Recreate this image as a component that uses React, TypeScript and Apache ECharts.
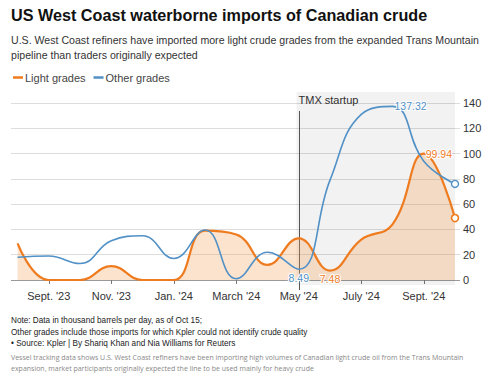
import { useEffect, useRef } from "react";
import * as echarts from "echarts";

const months = ["Aug '23", "Sept '23", "Oct '23", "Nov '23", "Dec '23", "Jan '24", "Feb '24", "March '24", "April '24", "May '24", "June '24", "July '24", "Aug '24", "Sept '24", "Oct '24"];
const lightGrades = [29, 0, 0, 11, 0, 0, 39, 36, 12, 33, 7.48, 32, 44, 99.94, 49];
const otherGrades = [18, 19, 13, 31, 35, 17, 39.5, 1, 22, 8.49, 79, 131, 137.32, 94, 76];
const xTickIndex = [1, 3, 5, 7, 9, 11, 13];
const xTickLabels = ["Sept. '23", "Nov. '23", "Jan. '24", "March '24", "May '24", "July '24", "Sept. '24"];
const tmxIndex = 9;
const lightLabelIdx = [10, 13];
const otherLabelIdx = [9, 12];

const ORANGE = "#ef7b1f";
const BLUE = "#5191c6";
const FONT = "'Liberation Sans', Arial, Helvetica, sans-serif";

export default function App() {
  const ref = useRef<HTMLDivElement>(null);
  useEffect(() => {
    const chart = echarts.init(ref.current!, null, { renderer: "svg" });
    const last = months.length - 1;
    const mk = (arr: number[], labelIdx: number[], color: string) =>
      arr.map((v, i) => {
        const item: any = { value: [i, v] };
        if (labelIdx.includes(i)) {
          const big = v > 50;
          item.label = {
            show: true,
            position: big ? "right" : "bottom",
            distance: big ? 2 : 3,
            color,
            fontSize: 10.5,
            fontFamily: FONT,
            textBorderColor: "#fff",
            textBorderWidth: 2,
            formatter: (p: any) => String(p.value[1]),
          };
        }
        return item;
      });
    const symSize = (_v: any, p: any) => (p.dataIndex === last ? 7 : 0);
    chart.setOption({
      animation: false,
      grid: { left: 11, right: 40, top: 103, bottom: 100, containLabel: false },
      legend: {
        left: 8,
        top: 67,
        icon: "rect",
        itemWidth: 10,
        itemHeight: 2.5,
        itemGap: 8,
        textStyle: { fontSize: 11, color: "#444", fontFamily: FONT, padding: [0, 0, 0, -3] },
        data: [
          { name: "Light grades", itemStyle: { color: ORANGE, borderWidth: 0 } },
          { name: "Other grades", itemStyle: { color: BLUE, borderWidth: 0 } },
        ],
      },
      xAxis: {
        type: "value",
        min: -0.21,
        max: 14.16,
        offset: 5,
        axisLine: { show: false },
        splitLine: { show: false },
        axisTick: { show: true, customValues: xTickIndex, length: 4, lineStyle: { color: "#777" } },
        axisLabel: {
          customValues: xTickIndex,
          formatter: (v: number) => xTickLabels[xTickIndex.indexOf(Math.round(v))] ?? "",
          fontSize: 11,
          color: "#333",
          fontFamily: FONT,
          margin: 5,
        },
      },
      yAxis: {
        type: "value",
        position: "right",
        min: 0,
        max: 140,
        interval: 20,
        axisLine: { show: false },
        axisTick: { show: false },
        axisLabel: { fontSize: 11, color: "#333", fontFamily: FONT, margin: 3 },
        splitLine: { lineStyle: { color: ["#999", "#ddd", "#ddd", "#ddd", "#ddd", "#ddd", "#ddd", "#ddd"], width: 1 } },
      },
      series: [
        {
          name: "Light grades",
          type: "line",
          smooth: 0.45,
          data: mk(lightGrades, lightLabelIdx, ORANGE),
          symbol: "circle",
          symbolSize: symSize,
          showSymbol: true,
          itemStyle: { color: "#fff", borderColor: ORANGE, borderWidth: 1.6 },
          lineStyle: { color: ORANGE, width: 2.2 },
          areaStyle: { color: "rgba(245,160,88,0.42)", origin: "start" },
          z: 3,
        },
        {
          name: "Other grades",
          type: "line",
          smooth: 0.45,
          data: mk(otherGrades, otherLabelIdx, BLUE),
          symbol: "circle",
          symbolSize: symSize,
          showSymbol: true,
          itemStyle: { color: "#fff", borderColor: BLUE, borderWidth: 1.4 },
          lineStyle: { color: BLUE, width: 1.6 },
          z: 4,
        },
      ],
    });

    const pMayTop = chart.convertToPixel({ gridIndex: 0 } as any, [tmxIndex, 140]) as number[];
    const pOctBot = chart.convertToPixel({ gridIndex: 0 } as any, [last, 0]) as number[];
    const xMay = Math.round(pMayTop[0]) + 0.5;
    const yTop = pMayTop[1];
    const yZero = pOctBot[1];

    chart.setOption({
      graphic: [
        {
          type: "rect",
          z: 1,
          silent: true,
          shape: { x: xMay - 3, y: yTop - 11, width: pOctBot[0] - xMay + 3, height: yZero - yTop + 16 },
          style: { fill: "rgba(0,0,0,0.05)" },
        },
        {
          type: "line",
          z: 2,
          silent: true,
          shape: { x1: xMay, y1: yTop + 8, x2: xMay, y2: yZero + 10 },
          style: { stroke: "#555", lineWidth: 1 },
        },
        {
          type: "text",
          left: xMay - 1,
          top: yTop - 9,
          style: { text: "TMX startup", font: `11px ${FONT}`, fill: "#333" },
        },
        {
          type: "text",
          left: 11,
          top: 7,
          style: { text: "US West Coast waterborne imports of Canadian crude", font: `bold 16.2px ${FONT}`, fill: "#111" },
        },
        {
          type: "text",
          left: 11,
          top: 32,
          style: {
            text: "U.S. West Coast refiners have imported more light crude grades from the expanded Trans Mountain\npipeline than traders originally expected",
            font: `10.6px ${FONT}`,
            fill: "#333",
            lineHeight: 15,
          },
        },
        {
          type: "text",
          left: 11,
          top: 315,
          style: {
            text: "Note: Data in thousand barrels per day, as of Oct 15;\nOther grades include those imports for which Kpler could not identify crude quality\n• Source: Kpler | By Shariq Khan and Nia Williams for Reuters",
            font: `8.2px ${FONT}`,
            fill: "#222",
            lineHeight: 11.5,
          },
        },
        {
          type: "text",
          left: 11,
          top: 352,
          style: {
            text: "Vessel tracking data shows U.S. West Coast refiners have been importing high volumes of Canadian light crude oil from the Trans Mountain\nexpansion, market participants originally expected the line to be used mainly for heavy crude",
            font: `7px 'Open Sans', ${FONT}`,
            fill: "#888",
            lineHeight: 11,
          },
        },
      ],
    });
    return () => chart.dispose();
  }, []);
  return <div ref={ref} style={{ position: "absolute", left: 0, top: 0, width: 500, height: 380, background: "#fff" }} />;
}
